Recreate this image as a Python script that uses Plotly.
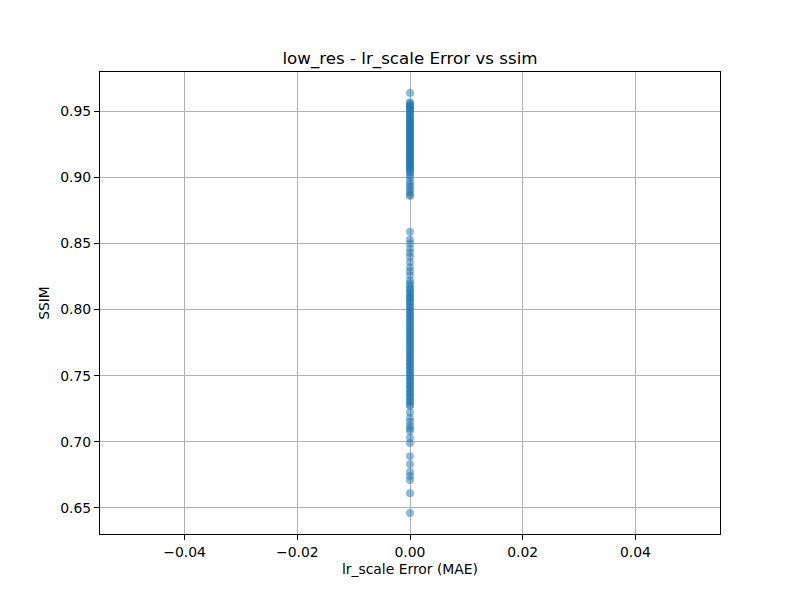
import plotly.graph_objects as go

# SSIM values (all points sit at error = 0)
ssim = [
    0.964, 0.957, 0.956, 0.955, 0.954, 0.953, 0.952, 0.951, 0.950, 0.949,
    0.948, 0.946, 0.945, 0.944, 0.943, 0.942, 0.941, 0.940, 0.939, 0.938,
    0.937, 0.936, 0.935, 0.934, 0.933, 0.932, 0.931, 0.930, 0.929, 0.928,
    0.927, 0.926, 0.925, 0.924, 0.923, 0.922, 0.921, 0.920, 0.919, 0.918,
    0.917, 0.916, 0.915, 0.914, 0.913, 0.912, 0.911, 0.910, 0.909, 0.908,
    0.907, 0.906, 0.905, 0.904, 0.902, 0.900, 0.897, 0.895, 0.893, 0.891,
    0.889, 0.887, 0.886,
    0.859, 0.853, 0.850, 0.846, 0.843, 0.840, 0.836, 0.832, 0.829, 0.826,
    0.822, 0.820, 0.818, 0.816, 0.815, 0.813, 0.812, 0.810, 0.809, 0.808,
    0.806, 0.805, 0.803, 0.802, 0.800, 0.799, 0.797, 0.796, 0.794, 0.793,
    0.791, 0.790, 0.788, 0.787, 0.785, 0.784, 0.782, 0.781, 0.779, 0.778,
    0.776, 0.775, 0.773, 0.772, 0.770, 0.769, 0.767, 0.766, 0.764, 0.763,
    0.761, 0.760, 0.758, 0.757, 0.755, 0.754, 0.752, 0.751, 0.749, 0.748,
    0.746, 0.745, 0.743, 0.742, 0.740, 0.739, 0.737, 0.736, 0.734, 0.733,
    0.731, 0.730, 0.728, 0.727,
    0.722, 0.718, 0.715, 0.712, 0.710, 0.708, 0.703, 0.699, 0.689, 0.683,
    0.677, 0.674, 0.671, 0.661, 0.646,
]
error = [0.0] * len(ssim)

x_ticks = [-0.04, -0.02, 0.0, 0.02, 0.04]
y_ticks = [0.65, 0.70, 0.75, 0.80, 0.85, 0.90, 0.95]

fig = go.Figure()
fig.add_trace(go.Scatter(x=error, y=ssim, mode='markers',
                         marker=dict(size=8, color='rgba(31,119,180,0.5)', line=dict(width=0)),
                         showlegend=False))

# 페이지 body 여백(8px)만큼 당겨서 배치
fig.update_layout(
    width=800, height=600,
    title=dict(text="low_res - lr_scale Error vs ssim", x=0.5025, xanchor='center',
               y=0.917, yanchor='middle', font=dict(size=16.7, color='black')),
    margin=dict(l=92, r=88, t=64, b=74),
    paper_bgcolor='white',
    plot_bgcolor='white',
    font=dict(family="DejaVu Sans", color='black', size=13.9),
    showlegend=False
)

fig.update_xaxes(range=[-0.055, 0.055], tickvals=x_ticks, tickformat='.2f',
                 showgrid=True, gridwidth=1, gridcolor='#b0b0b0', zeroline=False,
                 showline=True, linecolor='black', linewidth=1, mirror=True,
                 ticks='outside', ticklen=5, tickcolor='black',
                 title=dict(text="lr_scale Error (MAE)", font=dict(size=13.9), standoff=5))
fig.update_yaxes(range=[0.6301, 0.9799], tickvals=y_ticks, tickformat='.2f',
                 showgrid=True, gridwidth=1, gridcolor='#b0b0b0', zeroline=False,
                 showline=True, linecolor='black', linewidth=1, mirror=True,
                 ticks='outside', ticklen=5, tickcolor='black',
                 title=dict(text="SSIM", font=dict(size=13.9), standoff=7))

fig.write_html("out.html")
